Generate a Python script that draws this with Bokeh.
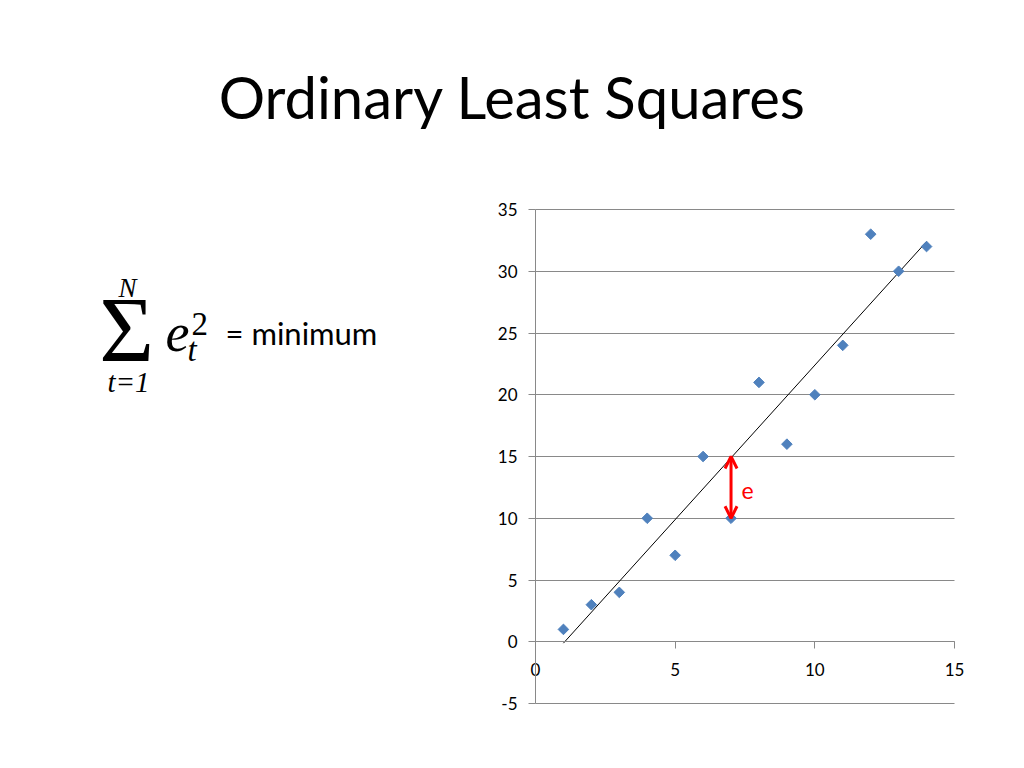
import numpy as np
from bokeh.plotting import figure
from bokeh.models import Range1d, FixedTicker, Label, Arrow, OpenHead
from bokeh.embed import file_html
from bokeh.resources import INLINE

# ---- data ----
x_vals = [1, 2, 3, 4, 5, 6, 7, 8, 9, 10, 11, 12, 13, 14]
y_vals = [1, 3, 4, 10, 7, 15, 10, 21, 16, 20, 24, 33, 30, 32]
x_ticks = [0, 5, 10, 15]
y_ticks = [-5, 0, 5, 10, 15, 20, 25, 30, 35]
x_tick_labels = ["0", "5", "10", "15"]
y_tick_labels = ["-5", "0", "5", "10", "15", "20", "25", "30", "35"]
resid_x = 7
resid_from = 10
resid_to = 15
title_text = "Ordinary Least Squares"
formula_text = "= minimum"

# ---- geometry (page pixels; figure sits at page origin) ----
W, H = 1016, 760
FL, FR, FT, FB = 535, 954, 209, 703   # chart region edges on page
X0, X1, Y0, Y1 = 0, 15, -5, 35

def dx(px):
    return X0 + (px - FL) * (X1 - X0) / (FR - FL)

def dy(py):
    return Y0 + (FB - py) * (Y1 - Y0) / (FB - FT)

p = figure(width=W, height=H, output_backend="svg", toolbar_location=None,
           x_range=Range1d(dx(0), dx(W)), y_range=Range1d(dy(H), dy(0)),
           min_border=0)
p.outline_line_color = None
p.background_fill_color = "white"
p.border_fill_color = "white"

GRAY = "#898989"
FONT = "Lato"
SERIF = "Liberation Serif"

# axes, crossing at the origin of the chart region
p.xaxis.fixed_location = 0
p.yaxis.fixed_location = 0
p.xaxis.bounds = (X0, X1)
p.yaxis.bounds = (Y0, Y1)
p.xaxis.ticker = FixedTicker(ticks=x_ticks)
p.xaxis.major_label_overrides = {t: l for t, l in zip(x_ticks, x_tick_labels)}
p.yaxis.ticker = FixedTicker(ticks=y_ticks)
p.yaxis.major_label_overrides = {t: l for t, l in zip(y_ticks, y_tick_labels)}
for ax in (p.xaxis, p.yaxis):
    ax.axis_line_color = GRAY
    ax.axis_line_width = 1
    ax.major_tick_line_color = GRAY
    ax.major_tick_in = 0
    ax.major_tick_out = 7
    ax.minor_tick_line_color = None
    ax.major_label_text_font = FONT
    ax.major_label_text_font_size = "17px"
    ax.major_label_text_color = "black"
p.xaxis.major_label_standoff = 14
p.yaxis.major_label_standoff = 11

p.xgrid.visible = False
p.ygrid.ticker = FixedTicker(ticks=y_ticks)
p.ygrid.bounds = (Y0, Y1)
p.ygrid.cross_bounds = (X0, X1)
p.ygrid.grid_line_color = GRAY
p.ygrid.grid_line_width = 1

# OLS trend line computed from data
slope, icpt = np.polyfit(x_vals, y_vals, 1)
lx = [min(x_vals), max(x_vals)]
ly = [icpt + slope * v for v in lx]
p.line(lx, ly, line_color="black", line_width=1)

# points
p.scatter(x_vals, y_vals, marker="square", angle=np.pi / 4, size=7.5,
          fill_color="#4F81BD", line_color="#4F81BD")

# residual arrow
p.add_layout(Arrow(x_start=resid_x, y_start=resid_from, x_end=resid_x, y_end=resid_to,
                   line_color="red", line_width=3,
                   start=OpenHead(size=12, line_color="red", line_width=3),
                   end=OpenHead(size=12, line_color="red", line_width=3)))


def put(text, px, py, size, font=FONT, align="left", style="normal", color="black"):
    p.add_layout(Label(x=dx(px), y=dy(py), text=text, text_align=align,
                       text_baseline="alphabetic", text_font=font,
                       text_font_style=style, text_font_size=f"{size}px",
                       text_color=color))


put("e", 741, 490, 23, color="red")

# title
put(title_text, 512, 96, 58, align="center")

# formula
put("\u03a3", 126, 328, 94, font=SERIF, align="center")
put("N", 127, 287, 27, font=SERIF, align="center", style="italic")
put("t=1", 128, 381, 29, font=SERIF, align="center", style="italic")
put("e", 165, 332, 54, font=SERIF, style="italic")
put("2", 191, 323, 33, font=SERIF)
put("t", 187, 349, 33, font=SERIF, style="italic")
put(formula_text, 225, 332, 31)

open("out.html", "w").write(file_html(p, INLINE))
